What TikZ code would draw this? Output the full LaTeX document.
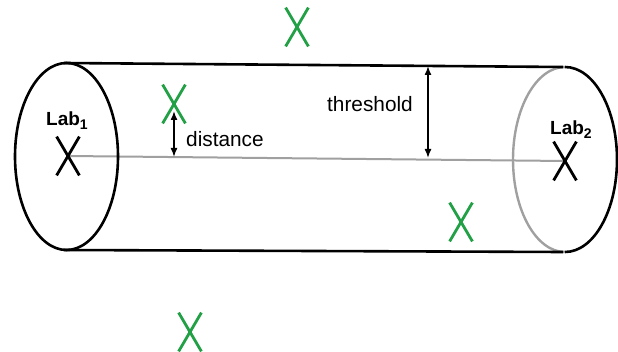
\documentclass[tikz,border=0pt]{standalone}
\usepackage{fontspec}
\setmainfont{Liberation Sans}
\usetikzlibrary{shapes.misc,arrows.meta}
\definecolor{xgreen}{RGB}{34,160,70}
\definecolor{axisgray}{RGB}{160,160,160}
\pgfdeclarelayer{background}
\pgfsetlayers{background,main}
\tikzset{
  xmark/.style={cross out, draw=black, line width=2.8pt, minimum width=20pt, minimum height=36pt, inner sep=0pt},
  gmark/.style={xmark, draw=xgreen},
  outline/.style={line width=2.6pt, black},
  backline/.style={line width=2.4pt, axisgray},
  axisline/.style={line width=2pt, axisgray},
  dimarrow/.style={line width=1.5pt, {Latex[length=9pt,width=7pt]}-{Latex[length=9pt,width=7pt]}},
  lbl/.style={font=\fontsize{20.8}{24}\selectfont, inner sep=0pt},
  lablbl/.style={font=\fontsize{19}{22}\selectfont\bfseries, inner sep=0pt}
}
\begin{document}
\begin{tikzpicture}[x=1pt,y=-1pt]
\useasboundingbox (0,0) rectangle (618,352);
% ends of the cylinder
\draw[outline] (66.5,156.5) ellipse[x radius=51.5pt, y radius=93.5pt];
\draw[backline] (565,67) arc[start angle=90, end angle=270, x radius=52pt, y radius=92.5pt];
\draw[outline] (565,67) arc[start angle=90, end angle=-90, x radius=52pt, y radius=92.5pt];
% sides
\coordinate (lt) at (64,63);
\coordinate (rt) at (563,67);
\coordinate (lb) at (64,250);
\coordinate (rb) at (563,252);
\draw[outline] (lt) -- (rt);
\draw[outline] (lb) -- (rb);
% lab marks
\node[xmark] (lab1x) at (68,156) {};
\node[xmark] (lab2x) at (565,161) {};
\begin{pgfonlayer}{background}
\draw[axisline] (lab1x.center) -- (lab2x.center);
\end{pgfonlayer}
\node[lablbl, anchor=base west] (lab1) at (46,126) {Lab\raisebox{-0.35ex}{\fontsize{14}{14}\selectfont 1}};
\node[lablbl, anchor=base west] (lab2) at (550,135) {Lab\raisebox{-0.35ex}{\fontsize{14}{14}\selectfont 2}};
% green marks
\node[gmark] (g1) at (297,27) {};
\node[gmark] (g2) at (174,104) {};
\node[gmark] (g3) at (461,222) {};
\node[gmark] (g4) at (190,332) {};
% distance
\coordinate (dtop) at (174,111);
\coordinate (dbot) at (174,157);
\draw[dimarrow] (dtop) -- (dbot);
\node[lbl, anchor=base west] (dist) at (186,147) {distance};
% threshold
\coordinate (ttop) at (428,66);
\coordinate (tbot) at (428,158);
\draw[dimarrow] (ttop) -- (tbot);
\node[lbl, anchor=base west] (thr) at (327,112) {threshold};
\end{tikzpicture}
\end{document}
